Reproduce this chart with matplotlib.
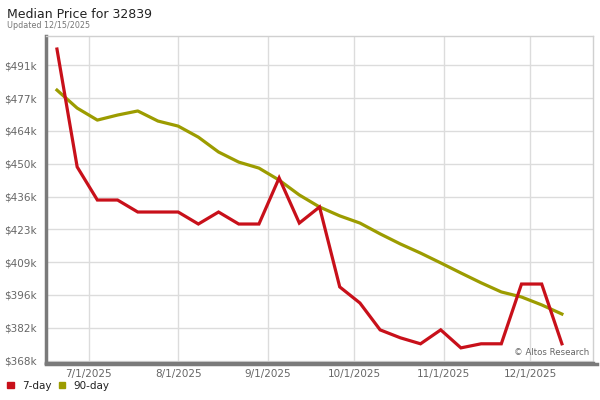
import matplotlib
matplotlib.use("Agg")
import matplotlib.pyplot as plt
import matplotlib.dates as mdates
import numpy as np
import pandas as pd
from matplotlib.lines import Line2D

# ---- data ----
dates = pd.date_range("2025-06-20", periods=26, freq="7D")
day7 = [497.8, 448.7, 434.9, 434.9, 429.9, 429.9, 429.9, 424.9, 429.9, 424.9,
        424.9, 444.1, 425.3, 432.0, 398.7, 392.0, 380.8, 377.5, 375.0, 380.8,
        373.3, 375.0, 375.0, 399.9, 399.9, 375.0]
day90 = [480.7, 473.2, 468.2, 470.3, 472.0, 467.8, 465.7, 461.1, 454.9, 450.7,
         448.2, 443.2, 437.0, 432.0, 428.3, 425.3, 420.8, 416.6, 412.8, 408.7,
         404.5, 400.4, 396.6, 394.5, 391.2, 387.4]
ytick_labels = ["$368k", "$382k", "$396k", "$409k", "$423k", "$436k",
                "$450k", "$464k", "$477k", "$491k"]
xtick_dates = ["2025-07-01", "2025-08-01", "2025-09-01", "2025-10-01",
               "2025-11-01", "2025-12-01"]
xtick_labels = ["7/1/2025", "8/1/2025", "9/1/2025", "10/1/2025",
                "11/1/2025", "12/1/2025"]
series_names = ["7-day", "90-day"]
colors = ["#c8101a", "#9c9c00"]

fig = plt.figure(figsize=(6, 4), dpi=100)
ax = fig.add_axes([0.0767, 0.0925, 0.9113, 0.8185])

x = mdates.date2num(dates)
ax.plot(x, np.array(day7) * 1000, color=colors[0], lw=2.3, solid_joinstyle="miter", zorder=3)
ax.plot(x, np.array(day90) * 1000, color=colors[1], lw=2.3, zorder=2)

yt = np.linspace(368000, 491000, 10)
ax.set_yticks(yt)
ax.set_yticklabels(ytick_labels)
xt = mdates.date2num(pd.to_datetime(xtick_dates))
ax.set_xticks(xt)
ax.set_xticklabels(xtick_labels)

ax.set_xlim(mdates.date2num(pd.Timestamp("2025-06-16 05:00")),
            mdates.date2num(pd.Timestamp("2025-12-22 17:00")))
ax.set_ylim(367000, 503400)

ax.grid(True, color="#dcdcdc", lw=1)
ax.set_axisbelow(True)
ax.tick_params(length=0, labelsize=7.5, labelcolor="#666666")
ax.tick_params(axis="y", pad=7)
ax.tick_params(axis="x", pad=4)

for s in ["top", "right"]:
    ax.spines[s].set_color("#d0d0d0")
    ax.spines[s].set_linewidth(1)
for s in ["left", "bottom"]:
    ax.spines[s].set_color("#7a7a7a")
    ax.spines[s].set_linewidth(2.5)
# extend the bottom bar to the right a bit
fig.add_artist(Line2D([0.0767, 0.995], [0.0895, 0.0895], transform=fig.transFigure,
                      color="#7a7a7a", lw=2.5))

ax.text(0.993, 0.018, "\u00a9 Altos Research", transform=ax.transAxes, ha="right",
        va="bottom", fontsize=6.2, color="#666666")

fig.text(0.012, 0.965, "Median Price for 32839", fontsize=9, color="#222222", va="center")
fig.text(0.012, 0.937, "Updated 12/15/2025", fontsize=5.8, color="#777777", va="center")

# legend
lx = [0.012, 0.098]
for i, (name, c) in enumerate(zip(series_names, colors)):
    fig.patches.append(plt.Rectangle((lx[i], 0.029), 0.011, 0.016, transform=fig.transFigure,
                                     color=c, figure=fig))
    fig.text(lx[i] + 0.025, 0.036, name, fontsize=7.5, color="#222222", va="center")

fig.savefig("out.png", dpi=100)
